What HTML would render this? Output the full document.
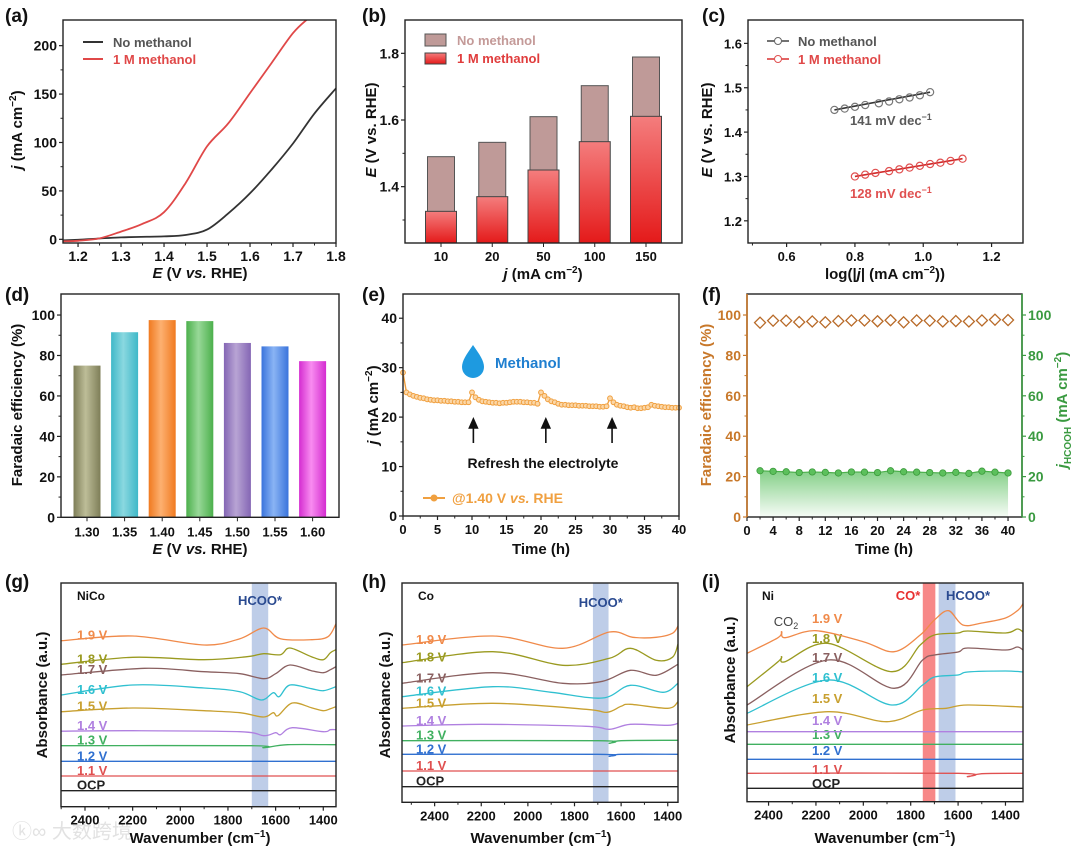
<!DOCTYPE html>
<html><head><meta charset="utf-8"><style>
html,body{margin:0;padding:0;background:#fff;}
svg{display:block;font-family:"Liberation Sans",Arial,sans-serif;font-weight:bold;}
</style></head><body>
<svg id="fig" width="1080" height="855" viewBox="0 0 1080 855" xmlns="http://www.w3.org/2000/svg">
<defs>
<linearGradient id="redbar" x1="0" y1="0" x2="0" y2="1"><stop offset="0" stop-color="#f47d7d"/><stop offset="1" stop-color="#e41a1a"/></linearGradient>
<linearGradient id="greenfill" x1="0" y1="0" x2="0" y2="1"><stop offset="0" stop-color="#5cc060" stop-opacity="0.75"/><stop offset="1" stop-color="#5cc060" stop-opacity="0.05"/></linearGradient>
</defs>
<g font-size="19" fill="#111">
<text x="5" y="22">(a)</text>
<text x="362" y="22">(b)</text>
<text x="702" y="22">(c)</text>
<text x="5" y="301">(d)</text>
<text x="362" y="301">(e)</text>
<text x="702" y="301">(f)</text>
<text x="5" y="588">(g)</text>
<text x="362" y="588">(h)</text>
<text x="702" y="588">(i)</text>
</g>
<g font-size="15" fill="#111" text-anchor="middle">
<text transform="translate(22,130) rotate(-90)"><tspan font-style="italic">j</tspan> (mA cm<tspan dy="-6" font-size="10">−2</tspan><tspan dy="6">)</tspan></text>
<text x="200" y="278"><tspan font-style="italic">E</tspan> (V <tspan font-style="italic">vs.</tspan> RHE)</text>
<text transform="translate(376,130) rotate(-90)"><tspan font-style="italic">E</tspan> (V vs. RHE)</text>
<text x="543" y="279"><tspan font-style="italic">j</tspan> (mA cm<tspan dy="-6" font-size="10">−2</tspan><tspan dy="6">)</tspan></text>
<text transform="translate(712,130) rotate(-90)"><tspan font-style="italic">E</tspan> (V vs. RHE)</text>
<text x="885" y="279">log(|<tspan font-style="italic">j</tspan>| (mA cm<tspan dy="-6" font-size="10">−2</tspan><tspan dy="6">))</tspan></text>
<text transform="translate(22,405) rotate(-90)">Faradaic efficiency (%)</text>
<text x="200" y="554"><tspan font-style="italic">E</tspan> (V <tspan font-style="italic">vs.</tspan> RHE)</text>
<text transform="translate(378,405) rotate(-90)"><tspan font-style="italic">j</tspan> (mA cm<tspan dy="-6" font-size="10">−2</tspan><tspan dy="6">)</tspan></text>
<text x="541" y="554">Time (h)</text>
<text transform="translate(711,405) rotate(-90)" fill="#c8782a">Faradaic efficiency (%)</text>
<text transform="translate(1067,410) rotate(-90)" fill="#3a9a40"><tspan font-style="italic">j</tspan><tspan dy="4" font-size="10">HCOOH</tspan><tspan dy="-4"> (mA cm</tspan><tspan dy="-6" font-size="10">−2</tspan><tspan dy="6">)</tspan></text>
<text x="884" y="554">Time (h)</text>
<text transform="translate(47,695) rotate(-90)">Absorbance (a.u.)</text>
<text x="200" y="843">Wavenumber (cm<tspan dy="-6" font-size="10">−1</tspan><tspan dy="6">)</tspan></text>
<text transform="translate(390,695) rotate(-90)">Absorbance (a.u.)</text>
<text x="541" y="843">Wavenumber (cm<tspan dy="-6" font-size="10">−1</tspan><tspan dy="6">)</tspan></text>
<text transform="translate(735,680) rotate(-90)">Absorbance (a.u.)</text>
<text x="885" y="843">Wavenumber (cm<tspan dy="-6" font-size="10">−1</tspan><tspan dy="6">)</tspan></text>
</g>
<g font-size="13">
<line x1="83" y1="42" x2="103" y2="42" stroke="#333" stroke-width="2"/>
<text x="113" y="47" fill="#555">No methanol</text>
<line x1="83" y1="59" x2="103" y2="59" stroke="#e04848" stroke-width="2"/>
<text x="113" y="64" fill="#e04848">1 M methanol</text>
<rect x="425" y="34" width="21" height="12" fill="#bf9a98" stroke="#555"/>
<text x="457" y="45" fill="#c49a98">No methanol</text>
<rect x="425" y="53" width="21" height="11" fill="url(#redbar)" stroke="#444"/>
<text x="457" y="63" fill="#e03c3c">1 M methanol</text>
<line x1="767" y1="41" x2="789" y2="41" stroke="#444" stroke-width="1.5"/>
<circle cx="778" cy="41" r="3.5" fill="#fff" stroke="#666"/>
<text x="798" y="46" fill="#555">No methanol</text>
<line x1="767" y1="59" x2="789" y2="59" stroke="#d83030" stroke-width="1.5"/>
<circle cx="778" cy="59" r="3.5" fill="#fff" stroke="#e05050"/>
<text x="798" y="64" fill="#e04848">1 M methanol</text>
<text x="850" y="125" fill="#5a5a5a">141 mV dec<tspan dy="-5" font-size="9">−1</tspan></text>
<text x="850" y="198" fill="#e05050">128 mV dec<tspan dy="-5" font-size="9">−1</tspan></text>
</g>
<path d="M473,345 C466,355 462,361 462,367 A11,11 0 0 0 484,367 C484,361 480,355 473,345 Z" fill="#1e9ae0"/>
<text x="495" y="368" font-size="15" fill="#1f7fd0">Methanol</text>
<text x="543" y="468" font-size="14" fill="#111" text-anchor="middle">Refresh the electrolyte</text>
<line x1="423" y1="498" x2="445" y2="498" stroke="#f0a040" stroke-width="2"/>
<circle cx="434" cy="498" r="3.5" fill="#f0a040"/>
<text x="452" y="503" font-size="14" fill="#f0a040">@1.40 V <tspan font-style="italic">vs.</tspan> RHE</text>
<g font-size="12" fill="#111">
<text x="77" y="600">NiCo</text>
<text x="418" y="600">Co</text>
<text x="762" y="600">Ni</text>
<text x="786" y="626" font-weight="normal" font-size="13" fill="#444" text-anchor="middle">CO<tspan dy="3" font-size="9">2</tspan></text>
</g>
<text x="12" y="838" font-size="20" fill="#e2e2e2" font-weight="normal" font-family="'Liberation Sans','Noto Sans CJK SC',sans-serif">ⓚ∞ 大数跨境</text>
</svg>
<script>
// ---------- DATA ----------
const aE_red = [1.165,1.2,1.25,1.3,1.35,1.4,1.45,1.5,1.55,1.6,1.65,1.7,1.735];
const aJ_red = [-2,-1.5,1,8,16,28,58,96,120,151,182,213,228];
const aE_blk = [1.165,1.2,1.3,1.4,1.45,1.5,1.55,1.6,1.65,1.7,1.75,1.8];
const aJ_blk = [-1,-0.5,2,3,4.5,10,27,47.5,72,99,130,156];
const bCats = ["10","20","50","100","150"];
const bNoMeOH = [1.49,1.533,1.61,1.703,1.789];
const bMeOH = [1.326,1.37,1.45,1.535,1.611];
const cX_blk = [0.74,0.77,0.80,0.83,0.87,0.90,0.93,0.96,0.99,1.02];
const cY_blk = [1.45,1.453,1.457,1.461,1.465,1.469,1.474,1.478,1.483,1.49];
const cX_red = [0.80,0.83,0.86,0.90,0.93,0.96,0.99,1.02,1.05,1.08,1.115];
const cY_red = [1.30,1.304,1.308,1.312,1.316,1.320,1.324,1.328,1.331,1.335,1.340];
const dCats = ["1.30","1.35","1.40","1.45","1.50","1.55","1.60"];
const dFE = [75,91.5,97.5,97,86.2,84.5,77.2];
const dColors = [["#bdbd98","#7e7e58"],["#8ad8e0","#3fb8c8"],["#fdb070","#f07a20"],["#98d898","#4cb04c"],["#b8a4d4","#8466b4"],["#8ab4f4","#3a74dc"],["#f88cf0","#d42cd0"]];
const eT = [0,0.5,1,1.5,2,2.5,3,3.5,4,4.5,5,5.5,6,6.5,7,7.5,8,8.5,9,9.5,10,10.5,11,11.5,12,12.5,13,13.5,14,14.5,15,15.5,16,16.5,17,17.5,18,18.5,19,19.5,20,20.5,21,21.5,22,22.5,23,23.5,24,24.5,25,25.5,26,26.5,27,27.5,28,28.5,29,29.5,30,30.5,31,31.5,32,32.5,33,33.5,34,34.5,35,35.5,36,36.5,37,37.5,38,38.5,39,39.5,40];
const eJ = [29,25,24.6,24.3,24.1,23.9,23.8,23.6,23.5,23.4,23.4,23.3,23.3,23.2,23.2,23.1,23.1,23.0,23.0,23.0,25.0,24.0,23.5,23.2,23.1,23.0,22.9,22.9,22.8,22.9,22.9,23.0,23.1,23.1,23.1,23.0,23.0,22.9,22.9,22.7,25.0,24.3,23.6,23.2,23.0,22.7,22.5,22.5,22.4,22.4,22.4,22.3,22.3,22.3,22.2,22.2,22.2,22.1,22.1,22.2,23.8,23.0,22.5,22.3,22.2,22.0,21.9,22.0,21.8,21.8,21.9,22.0,22.5,22.3,22.2,22.1,22.0,22.0,21.9,21.9,21.9];
const eRefresh = [10.2,20.7,30.3];
const fT = [2,4,6,8,10,12,14,16,18,20,22,24,26,28,30,32,34,36,38,40];
const fFE = [96.2,97.2,97.2,96.5,96.8,96.4,97,97.3,97.3,96.9,97.4,96.4,97.3,97.2,96.8,97,96.8,97.3,97.7,97.5];
const fJ = [22.9,22.6,22.4,22.0,22.3,22.1,21.8,22.3,22.2,22.0,22.9,22.4,22.2,22.0,21.8,22.1,21.6,22.7,22.2,21.8];
const vLabels = ["OCP","1.1 V","1.2 V","1.3 V","1.4 V","1.5 V","1.6 V","1.7 V","1.8 V","1.9 V"];
const vColors = ["#222","#e05050","#3070d0","#40b060","#b080e0","#c8a030","#30c0d0","#8a6060","#9a9a20","#f08a4a"];
const g0=[[2500,16],[1347,16]], g11=[[2500,30.7],[1347,30.7]], g12=[[2500,45.4],[1347,45.4]];
const g13=[[2500,61],[1700,61],[1650,59],[1550,62],[1347,62]];
const g14=[[2500,75.5],[2200,76],[1750,75],[1650,71],[1600,74],[1580,72],[1530,79],[1400,75],[1370,77],[1347,77]];
const g15=[[2500,95],[2200,98.7],[1900,96],[1750,94],[1650,89.7],[1610,94],[1590,91],[1530,103.7],[1450,99],[1400,96],[1370,98],[1347,100]];
const g16=[[2500,111.7],[2200,121.7],[1900,118.7],[1750,115],[1660,106.7],[1610,114],[1585,110],[1540,121.7],[1450,118],[1400,116],[1347,120]];
const g17=[[2500,131.7],[2150,138.4],[1900,135],[1750,133],[1650,128],[1600,133],[1540,141.7],[1450,136],[1400,134],[1370,137],[1347,140]];
const g18=[[2500,142.4],[2200,149.4],[1900,147],[1720,150],[1650,153],[1580,152],[1540,158.7],[1450,150],[1400,147],[1370,154],[1347,157]];
const g19=[[2500,166],[2200,170.7],[1900,161.7],[1750,168],[1650,178.7],[1580,168],[1450,167],[1380,170],[1347,182.7]];
const h0=[[2540,15.6],[1356,15.6]], h11=[[2540,31.3],[1356,31.3]];
const h12=[[2540,48],[1700,48],[1650,46],[1600,48],[1356,48]];
const h13=[[2540,61.6],[1700,61.6],[1650,59],[1600,61.6],[1356,62]];
const h14=[[2540,76.3],[2200,78],[1750,76],[1650,73],[1560,78],[1400,77],[1356,79]];
const h15=[[2540,94],[2150,99],[1750,93],[1660,90],[1600,96],[1560,98],[1400,94],[1356,100.6]];
const h16=[[2540,105.6],[2150,115.6],[1900,110],[1680,104.3],[1560,117],[1420,110],[1356,119]];
const h17=[[2540,119],[2150,129.6],[1850,119],[1680,121],[1560,132],[1450,127],[1356,138]];
const h18=[[2540,139.6],[2150,150.6],[1850,137],[1650,144],[1560,154],[1450,142],[1380,145],[1356,158.3]];
const h19=[[2540,157.3],[2150,166.3],[1850,154],[1650,170.3],[1550,165],[1450,165],[1380,169],[1356,176.3]];
const i0=[[2491,13.4],[1326,13.4]];
const i11=[[2491,28.4],[1600,28.4],[1560,25],[1500,28],[1326,28.4]];
const i12=[[2491,42.4],[1326,42.4]], i13=[[2491,57.4],[1326,57.4]], i14=[[2491,70],[1326,70]];
const i15=[[2491,76.7],[2150,90],[1900,80],[1750,91.7],[1650,93.4],[1560,96.7],[1326,94.7]];
const i16=[[2491,88.4],[2150,121.7],[1880,96.7],[1750,116.7],[1700,124.7],[1600,126.7],[1560,129.7],[1400,130.7],[1326,129.7]];
const i17=[[2491,96.7],[2150,141.7],[1870,113.4],[1750,141.7],[1700,146.7],[1600,149.7],[1560,153.7],[1400,151.7],[1350,154.7],[1326,151.7]];
const i18=[[2491,115],[2360,140],[2345,145],[2330,140],[2150,158.4],[1880,130],[1760,156.7],[1700,166.7],[1600,168.7],[1560,170.7],[1400,168.7],[1350,172.7],[1326,169.7]];
const i19=[[2491,148.4],[2360,164],[2345,170],[2330,164],[2200,171],[2000,160],[1870,150],[1760,166.7],[1700,181.7],[1640,191],[1580,176.7],[1500,178.7],[1400,183.7],[1345,192],[1326,198]];
const gCurves=[g0,g11,g12,g13,g14,g15,g16,g17,g18,g19];
const hCurves=[h0,h11,h12,h13,h14,h15,h16,h17,h18,h19];
const iCurves=[i0,i11,i12,i13,i14,i15,i16,i17,i18,i19];
const wnTicks=[2400,2200,2000,1800,1600,1400];

// ---------- HELPERS ----------
const NS='http://www.w3.org/2000/svg';
const svg=document.getElementById('fig');
function mk(tag,attrs,parent){const e=document.createElementNS(NS,tag);for(const k in attrs)e.setAttribute(k,attrs[k]);(parent||svg).appendChild(e);return e;}
function lin(d0,d1,r0,r1){return v=>r0+(v-d0)/(d1-d0)*(r1-r0);}
function smooth(pts){let d='M'+pts[0][0].toFixed(1)+','+pts[0][1].toFixed(1);
 for(let i=0;i<pts.length-1;i++){const p0=pts[i-1]||pts[i],p1=pts[i],p2=pts[i+1],p3=pts[i+2]||p2;
  const c1=[p1[0]+(p2[0]-p0[0])/6,p1[1]+(p2[1]-p0[1])/6],c2=[p2[0]-(p3[0]-p1[0])/6,p2[1]-(p3[1]-p1[1])/6];
  d+=`C${c1[0].toFixed(1)},${c1[1].toFixed(1)} ${c2[0].toFixed(1)},${c2[1].toFixed(1)} ${p2[0].toFixed(1)},${p2[1].toFixed(1)}`;}
 return d;}
function frame(x0,y0,x1,y1,name,colL,colR){
 const f=mk('rect',{x:x0,y:y0,width:x1-x0,height:y1-y0,fill:'none',stroke:'#222','stroke-width':1.4});
 
 
 if(colL){const l=mk('line',{x1:x0,y1:y0,x2:x0,y2:y1,stroke:colL,'stroke-width':1.6});
  
  }
 if(colR){const r=mk('line',{x1:x1,y1:y0,x2:x1,y2:y1,stroke:colR,'stroke-width':1.6});
  
  }
}
function xTicks(name,sx,y,vals,minor,fmt,fs){
 minor.forEach(v=>{const t=mk('line',{x1:sx(v),y1:y,x2:sx(v),y2:y+2.5,stroke:'#222','stroke-width':1});
  
  });
 vals.forEach(v=>{const t=mk('line',{x1:sx(v),y1:y,x2:sx(v),y2:y+4,stroke:'#222','stroke-width':1.2});
  
  
  const l=mk('text',{x:sx(v),y:y+18,'text-anchor':'middle','font-size':fs||13,fill:'#111'});
  l.textContent=fmt?fmt(v):v;
  
  });
}
function yTicks(name,sy,x,vals,minor,fmt,side,col,fs){
 const s=side||-1,c=col||'#222';
 minor.forEach(v=>{const t=mk('line',{x1:x,y1:sy(v),x2:x+s*2.5,y2:sy(v),stroke:c,'stroke-width':1});
  
  });
 vals.forEach(v=>{const t=mk('line',{x1:x,y1:sy(v),x2:x+s*4,y2:sy(v),stroke:c,'stroke-width':1.2});
  
  
  const l=mk('text',{x:x+s*6,y:sy(v)+5,'text-anchor':s<0?'end':'start','font-size':fs||13,fill:c==='#222'?'#111':c});
  l.textContent=fmt?fmt(v):v;
  
  });
}

// ---------- (a) ----------
{const x0=63,y0=20,x1=336,y1=243;
 const sx=lin(1.165,1.8,x0,x1), sy=lin(-3.8,226.5,y1,y0);
 const clip=mk('clipPath',{id:'clipA'});mk('rect',{x:x0,y:y0,width:x1-x0,height:y1-y0},clip);
 const pb=mk('path',{d:smooth(aE_blk.map((e,i)=>[sx(e),sy(aJ_blk[i])])),fill:'none',stroke:'#333','stroke-width':1.8,'clip-path':'url(#clipA)'});
 
 
 const pr=mk('path',{d:smooth(aE_red.map((e,i)=>[sx(e),sy(aJ_red[i])])),fill:'none',stroke:'#e04848','stroke-width':1.8,'clip-path':'url(#clipA)'});
 
 
 frame(x0,y0,x1,y1,'a');
 xTicks('a',sx,y1,[1.2,1.3,1.4,1.5,1.6,1.7,1.8],[1.25,1.35,1.45,1.55,1.65,1.75],v=>v.toFixed(1),14);
 yTicks('a',sy,x0,[0,50,100,150,200],[25,75,125,175],null,-1,null,14);
}
// ---------- (b) ----------
{const x0=405,y0=20,x1=682,y1=243;
 const sy=lin(1.231,1.9,y1,y0), xc=i=>x0+36+i*51.25;
 bCats.forEach((c,i)=>{
  const g=mk('rect',{x:xc(i)-13.5,y:sy(bNoMeOH[i]),width:27,height:y1-sy(bNoMeOH[i]),fill:'#bf9a98',stroke:'#555','stroke-width':1});
  
  
  const r=mk('rect',{x:xc(i)-15.5,y:sy(bMeOH[i]),width:31,height:y1-sy(bMeOH[i]),fill:'url(#redbar)',stroke:'#444','stroke-width':1});
  
  
 });
 frame(x0,y0,x1,y1,'b');
 bCats.forEach((c,i)=>{const t=mk('line',{x1:xc(i),y1:y1,x2:xc(i),y2:y1+4,stroke:'#222'});
  
  
  const l=mk('text',{x:xc(i),y:y1+18,'text-anchor':'middle','font-size':13,fill:'#111'});l.textContent=c;
  
  });
 yTicks('b',sy,x0,[1.4,1.6,1.8],[1.3,1.5,1.7],v=>v.toFixed(1),-1,null,14);
}
// ---------- (c) ----------
{const x0=748,y0=20,x1=1023,y1=243;
 const sx=lin(0.487,1.292,x0,x1), sy=lin(1.15,1.6527,y1,y0);
 [[cX_blk,cY_blk,'#333','#777','no-methanol'],[cX_red,cY_red,'#d02828','#e05050','methanol']].forEach(([X,Y,lc,mc,n])=>{
  const ln=mk('line',{x1:sx(X[0]),y1:sy(Y[0]),x2:sx(X[X.length-1]),y2:sy(Y[Y.length-1]),stroke:lc,'stroke-width':1.6});
  
  
  X.forEach((x,i)=>{const c=mk('circle',{cx:sx(x),cy:sy(Y[i]),r:3.6,fill:'none',stroke:mc,'stroke-width':1.2});
   
   });
 });
 frame(x0,y0,x1,y1,'c');
 xTicks('c',sx,y1,[0.6,0.8,1.0,1.2],[0.5,0.7,0.9,1.1],v=>v.toFixed(1));
 yTicks('c',sy,x0,[1.2,1.3,1.4,1.5,1.6],[1.25,1.35,1.45,1.55],v=>v.toFixed(1));
}
// ---------- (d) ----------
{const x0=61,y0=294,x1=339,y1=517.3;
 const sy=lin(0,110.4,y1,y0), xc=i=>87+i*37.6;
 const defs=svg.querySelector('defs');
 dCats.forEach((c,i)=>{
  const gr=mk('linearGradient',{id:'dg'+i,x1:0,y1:0,x2:1,y2:0},defs);
  mk('stop',{offset:0,'stop-color':dColors[i][1]},gr);mk('stop',{offset:0.45,'stop-color':dColors[i][0]},gr);mk('stop',{offset:1,'stop-color':dColors[i][1]},gr);
  const b=mk('rect',{x:xc(i)-13.5,y:sy(dFE[i]),width:27,height:y1-sy(dFE[i]),fill:'url(#dg'+i+')'});
  
  
  const t=mk('line',{x1:xc(i),y1:y1,x2:xc(i),y2:y1+4,stroke:'#222'});
  
  
  const l=mk('text',{x:xc(i),y:y1+19,'text-anchor':'middle','font-size':13,fill:'#111'});l.textContent=c;
  
  
 });
 frame(x0,y0,x1,y1,'d');
 yTicks('d',sy,x0,[0,20,40,60,80,100],[10,30,50,70,90],null,-1,null,14);
}
// ---------- (e) ----------
{const x0=403,y0=294,x1=679,y1=516;
 const sx=lin(0,40,x0,x1), sy=lin(0,44.9,y1,y0);
 const p=mk('polyline',{points:eT.map((t,i)=>sx(t)+','+sy(eJ[i])).join(' '),fill:'none',stroke:'#f0a040','stroke-width':1.4});
 
 
 eT.forEach((t,i)=>{const c=mk('circle',{cx:sx(t),cy:sy(eJ[i]),r:2.4,fill:'#fbd7a8',stroke:'#f0a040','stroke-width':1});
  
  });
 eRefresh.forEach(t=>{const a=mk('path',{d:`M${sx(t)},443 L${sx(t)},426 M${sx(t)-4},428 L${sx(t)},419 L${sx(t)+4},428 Z`,stroke:'#111','stroke-width':1.6,fill:'#111'});
  
  });
 frame(x0,y0,x1,y1,'e');
 xTicks('e',sx,y1,[0,5,10,15,20,25,30,35,40],[2.5,7.5,12.5,17.5,22.5,27.5,32.5,37.5]);
 yTicks('e',sy,x0,[0,10,20,30,40],[5,15,25,35],null,-1,null,14);
}
// ---------- (f) ----------
{const x0=747,y0=294,x1=1022,y1=517;
 const sx=lin(0,42.14,x0,x1), sy=lin(0,110.4,y1,y0);
 const area=mk('path',{d:'M'+sx(fT[0])+','+y1+' '+fT.map((t,i)=>'L'+sx(t)+','+sy(fJ[i])).join(' ')+' L'+sx(fT[fT.length-1])+','+y1+'Z',fill:'url(#greenfill)'});
 
 
 const jl=mk('polyline',{points:fT.map((t,i)=>sx(t)+','+sy(fJ[i])).join(' '),fill:'none',stroke:'#4cb04c','stroke-width':1.2});
 
 
 fT.forEach((t,i)=>{const c=mk('circle',{cx:sx(t),cy:sy(fJ[i]),r:3.2,fill:'#5cc05c',stroke:'#3a9a3a','stroke-width':0.8});
  
  
  const x=sx(t),y=sy(fFE[i]);
  const d=mk('path',{d:`M${x},${y-5.5} L${x+5.5},${y} L${x},${y+5.5} L${x-5.5},${y} Z`,fill:'none',stroke:'#b86a28','stroke-width':1.3});
  
  });
 frame(x0,y0,x1,y1,'f','#c8782a','#3a9a40');
 xTicks('f',sx,y1,[0,4,8,12,16,20,24,28,32,36,40],[2,6,10,14,18,22,26,30,34,38]);
 yTicks('f-left',sy,x0,[0,20,40,60,80,100],[10,30,50,70,90],null,-1,'#c8782a',14);
 yTicks('f-right',sy,x1,[0,20,40,60,80,100],[10,30,50,70,90],null,1,'#3a9a40',14);
}
// ---------- spectra ----------
function spectra(name,box,dom,curves,bands,labelX,labelYs){
 const [x0,y0,x1,y1]=box;
 const sx=lin(dom[0],dom[1],x0,x1), sy=lin(0,y1-y0,y1,y0);
 bands.forEach(([a,b,col,txt,ty,tx])=>{const r=mk('rect',{x:sx(a),y:y0,width:sx(b)-sx(a),height:y1-y0,fill:col,opacity:0.75});
  
  
  const t=mk('text',{x:tx||(sx(a)+sx(b))/2,y:ty,'text-anchor':'middle','font-size':13,fill:txt==='CO*'?'#e83030':'#2a4a90'});
  t.textContent=txt;
  
  });
 const cid='clip'+name;const cp=mk('clipPath',{id:cid});mk('rect',{x:x0,y:y0,width:x1-x0,height:y1-y0},cp);
 curves.forEach((c,k)=>{const p=mk('path',{d:smooth(c.map(([w,v])=>[sx(w),sy(v)])),fill:'none',stroke:vColors[k],'stroke-width':1.3,'clip-path':'url(#'+cid+')'});
  
  
  const ly=labelYs?labelYs[k]:sy(c[0][1])-6;
  const t=mk('text',{x:labelX,y:ly+5,'font-size':13,fill:vColors[k]});
  t.textContent=vLabels[k];
  
  });
 frame(x0,y0,x1,y1,name);
 xTicks(name,sx,y1,wnTicks,[2500,2300,2100,1900,1700,1500].filter(v=>v<=Math.max(dom[0],dom[1])));
}
spectra('g',[61,583,336,806.7],[2500.7,1346.6],gCurves,[[1700,1631,'#a8bce0','HCOO*',605]],77,null);
spectra('h',[402,583,678,802.3],[2540,1356],hCurves,[[1721,1654,'#a8bce0','HCOO*',607]],416,null);
spectra('i',[747,583,1023,801.7],[2491,1326],iCurves,[[1749,1696,'#f46060','CO*',600,908],[1682,1611,'#a8bce0','HCOO*',600,968]],812,[783,769,750,734,720,698,677,657,638,618]);
</script>
</body></html>
